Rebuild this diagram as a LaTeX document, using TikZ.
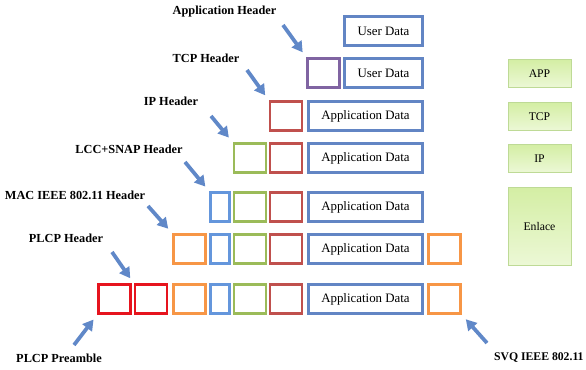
\documentclass[tikz,border=0pt]{standalone}
\usepackage{fontspec}
\setmainfont{Liberation Serif}
\usepackage{tikz}
\usetikzlibrary{arrows.meta, positioning}
\definecolor{datacolor}{RGB}{98, 133, 196}
\definecolor{tcpcolor}{RGB}{192, 80, 77}
\definecolor{ipcolor}{RGB}{155, 187, 89}
\definecolor{appcolor}{RGB}{128, 100, 162}
\definecolor{plcpcolor}{RGB}{247, 150, 70}
\definecolor{maccolor}{RGB}{100, 150, 220}
\definecolor{preamblecolor}{RGB}{230, 20, 30}
\definecolor{arrowcolor}{RGB}{96, 136, 200}
\definecolor{layertop}{RGB}{212, 238, 164}
\definecolor{layerbottom}{RGB}{236, 248, 214}
\definecolor{layerborder}{RGB}{190, 218, 150}

\begin{document}
\begin{tikzpicture}[x=0.03cm, y=-0.03cm,
    cell/.style={draw, line width=2.4pt, minimum height=0.87cm, inner sep=0pt, fill=white},
    small/.style={cell, minimum width=0.96cm},
    tiny/.style={cell, minimum width=0.57cm},
    userbox/.style={cell, draw=datacolor, minimum width=2.34cm, font=\fontsize{11}{13}\selectfont},
    databox/.style={cell, draw=datacolor, minimum width=3.42cm, font=\fontsize{11}{13}\selectfont},
    layer/.style={draw=layerborder, line width=0.8pt, top color=layertop, bottom color=layerbottom, minimum width=1.89cm, inner sep=0pt, font=\fontsize{10}{12}\selectfont},
    tag/.style={font=\fontsize{10.5}{12}\selectfont\bfseries, inner sep=1pt},
    pointer/.style={-{Triangle[length=9pt, width=10pt]}, line width=3.2pt, arrowcolor, shorten >=5pt}]
    \useasboundingbox (0,0) rectangle (586,370);

    % Row 1: user data
    \node[userbox] (r1d) at (383.5, 31) {User Data};

    % Row 2: application header
    \node[small, draw=appcolor] (r2a) at (323.5, 73) {};
    \node[userbox] (r2d) at (383.5, 73) {User Data};

    % Row 3: TCP header
    \node[small, draw=tcpcolor] (r3t) at (286, 116) {};
    \node[databox] (r3d) at (365.5, 116) {Application Data};

    % Row 4: IP header
    \node[small, draw=ipcolor] (r4i) at (250, 158) {};
    \node[small, draw=tcpcolor] (r4t) at (286, 158) {};
    \node[databox] (r4d) at (365.5, 158) {Application Data};

    % Row 5: LLC+SNAP header
    \node[tiny, draw=maccolor] (r5l) at (220, 207) {};
    \node[small, draw=ipcolor] (r5i) at (250, 207) {};
    \node[small, draw=tcpcolor] (r5t) at (286, 207) {};
    \node[databox] (r5d) at (365.5, 207) {Application Data};

    % Row 6: MAC header and trailer
    \node[small, draw=plcpcolor] (r6m) at (189.5, 249) {};
    \node[tiny, draw=maccolor] (r6l) at (220, 249) {};
    \node[small, draw=ipcolor] (r6i) at (250, 249) {};
    \node[small, draw=tcpcolor] (r6t) at (286, 249) {};
    \node[databox] (r6d) at (365.5, 249) {Application Data};
    \node[small, draw=plcpcolor] (r6s) at (444.5, 249) {};

    % Row 7: PLCP preamble and header
    \node[small, draw=preamblecolor] (r7p) at (114.5, 299) {};
    \node[small, draw=preamblecolor] (r7h) at (151, 299) {};
    \node[small, draw=plcpcolor] (r7m) at (189.5, 299) {};
    \node[tiny, draw=maccolor] (r7l) at (220, 299) {};
    \node[small, draw=ipcolor] (r7i) at (250, 299) {};
    \node[small, draw=tcpcolor] (r7t) at (286, 299) {};
    \node[databox] (r7d) at (365.5, 299) {Application Data};
    \node[small, draw=plcpcolor] (r7s) at (444.5, 299) {};

    % Layers
    \node[layer, minimum height=0.84cm] (app) at (539.5, 73.5) {APP};
    \node[layer, minimum height=0.84cm] (tcp) at (539.5, 116.5) {TCP};
    \node[layer, minimum height=0.84cm] (ip) at (539.5, 158.5) {IP};
    \node[layer, minimum height=2.34cm] (enlace) at (539.5, 226.5) {Enlace};

    % Labels
    \node[tag] (lapp) at (224.5, 12) {Application Header};
    \node[tag] (ltcp) at (206, 58) {TCP Header};
    \node[tag] (lip) at (171, 101) {IP Header};
    \node[tag] (lllc) at (129, 149) {LCC+SNAP Header};
    \node[tag] (lmac) at (75, 195) {MAC IEEE 802.11 Header};
    \node[tag] (lplcp) at (66, 238) {PLCP Header};
    \node[tag] (lpre) at (59, 358) {PLCP Preamble};
    \node[tag, anchor=east, font=\fontsize{10}{12}\selectfont\bfseries] (lsvq) at (585, 358) {SVQ IEEE 802.11};

    % Pointers
    \coordinate (tapp) at (283, 25);
    \coordinate (ttcp) at (247, 70);
    \coordinate (tip) at (211, 116);
    \coordinate (tllc) at (185, 162);
    \coordinate (tmac) at (148, 206);
    \coordinate (tplcp) at (112, 252);
    \coordinate (tpre) at (74, 345);
    \coordinate (tsvq) at (487, 343);
    \draw[pointer] (tapp) -- (r2a.north west);
    \draw[pointer] (ttcp) -- (r3t.north west);
    \draw[pointer] (tip) -- (r4i.north west);
    \draw[pointer] (tllc) -- (r5l.north west);
    \draw[pointer] (tmac) -- (r6m.north west);
    \draw[pointer] (tplcp) -- (r7h.north west);
    \draw[pointer] (tpre) -- (r7p.south west);
    \draw[pointer] (tsvq) -- (r7s.south east);

\end{tikzpicture}
\end{document}
